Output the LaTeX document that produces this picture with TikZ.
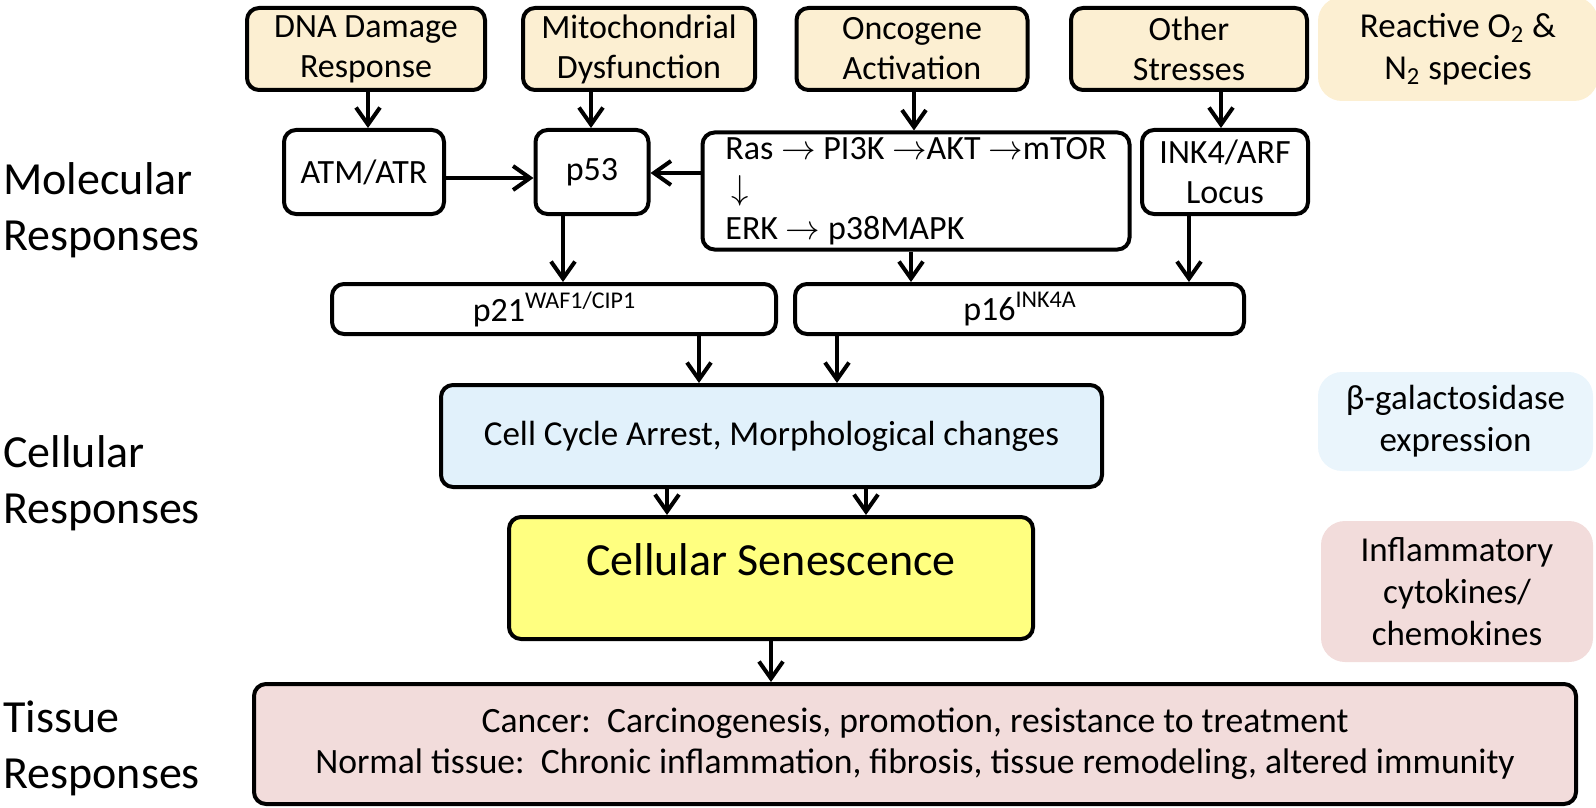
\documentclass[tikz,border=0pt]{standalone}
\usepackage{fontspec}
\setmainfont{Carlito}
\usetikzlibrary{arrows.meta}

\definecolor{stressfill}{HTML}{FCEFD2}
\definecolor{cellfill}{HTML}{E1F1FB}
\definecolor{galfill}{HTML}{EAF5FC}
\definecolor{senfill}{HTML}{FFFF80}
\definecolor{tissfill}{HTML}{F2DCDB}

\newcommand{\sups}[1]{\raisebox{0.8ex}{\fontsize{12}{12}\selectfont #1}}

\begin{document}
\begin{tikzpicture}[x=0.5pt, y=-0.5pt,
  box/.style={draw, line width=2pt, rounded corners=6pt, align=center, inner sep=0pt,
    font=\fontsize{17}{20}\selectfont},
  stress/.style={box, fill=stressfill, minimum height=41pt},
  side/.style={rounded corners=12pt, align=center, inner sep=0pt,
    font=\fontsize{17.5}{21}\selectfont},
  level/.style={anchor=west, align=left, inner sep=0pt, font=\fontsize{23}{28}\selectfont},
  arr/.style={line width=2pt, -{Straight Barb[length=8.5pt,width=12pt]}}]
\useasboundingbox (0,0) rectangle (1596,808);

% levels
\node[level] (mol) at (3,210) {Molecular\\Responses};
\node[level] (cel) at (3,483) {Cellular\\Responses};
\node[level] (tis) at (3,748) {Tissue\\Responses};

% stresses
\node[stress, minimum width=119pt] (dna) at (366,49) {DNA Damage\\Response};
\node[stress, minimum width=116pt] (mito) at (639,49) {Mitochondrial\\Dysfunction};
\node[stress, minimum width=115.5pt] (onco) at (912,49) {Oncogene\\Activation};
\node[stress, minimum width=118pt] (other) at (1189,49) {Other\\Stresses};
\node[side, fill=stressfill, minimum width=140pt, minimum height=52pt] (ros) at (1458,49)
  {Reactive O\textsubscript{2} \&\\N\textsubscript{2} species};

% molecular
\node[box, minimum width=80pt, minimum height=42pt] (atm) at (364,172) {ATM/ATR};
\node[box, minimum width=56.5pt, minimum height=42pt] (p53) at (592,172) {p53};
\node[box, minimum width=213.5pt, minimum height=58.5pt, align=left] (ras) at (916,191)
  {Ras $\rightarrow$ PI3K $\rightarrow$AKT $\rightarrow$mTOR\\
   \hspace{3pt}$\downarrow$\\
   ERK $\rightarrow$ p38MAPK};
\node[box, minimum width=83pt, minimum height=42pt] (ink) at (1225,172) {INK4/ARF\\Locus};
\node[box, minimum width=222pt, minimum height=25pt] (p21) at (554,309) {p21\sups{WAF1/CIP1}};
\node[box, minimum width=224.5pt, minimum height=25pt] (p16) at (1019.5,309) {p16\sups{INK4A}};

% cellular
\node[box, fill=cellfill, minimum width=330.5pt, minimum height=51pt,
  font=\fontsize{17.5}{21}\selectfont] (cell) at (771.5,436) {Cell Cycle Arrest, Morphological changes};
\node[box, fill=senfill, minimum width=262pt, minimum height=61pt, text depth=18pt,
  font=\fontsize{23}{28}\selectfont] (sen) at (771,578) {Cellular Senescence};
\node[side, fill=galfill, minimum width=137.5pt, minimum height=49.5pt] (gal) at (1455.5,421.5)
  {β-galactosidase\\expression};
\node[side, fill=tissfill, minimum width=136pt, minimum height=70.5pt] (infl) at (1457,591.5)
  {Inflammatory\\cytokines/\\chemokines};

% tissue
\node[box, fill=tissfill, minimum width=661pt, minimum height=60pt,
  font=\fontsize{17.8}{20.5}\selectfont] (tissue) at (915,744)
  {Cancer:\ \ Carcinogenesis, promotion, resistance to treatment\\
   Normal tissue:\ \ Chronic inflammation, fibrosis, tissue remodeling, altered immunity};

\draw[arr] (368,0 |- dna.south) -- (368,0 |- atm.north);
\draw[arr] (591,0 |- mito.south) -- (591,0 |- p53.north);
\draw[arr] (914,0 |- onco.south) -- (914,0 |- ras.north);
\draw[arr] (1221,0 |- other.south) -- (1221,0 |- ink.north);
\draw[arr] (atm.east |- 0,178) -- (p53.west |- 0,178);
\draw[arr] (ras.west |- 0,173) -- (p53.east |- 0,173);
\draw[arr] (563,0 |- p53.south) -- (563,0 |- p21.north);
\draw[arr] (911,0 |- ras.south) -- (911,0 |- p16.north);
\draw[arr] (1189,0 |- ink.south) -- (1189,0 |- p16.north);
\draw[arr] (699,0 |- p21.south) -- (699,0 |- cell.north);
\draw[arr] (837,0 |- p16.south) -- (837,0 |- cell.north);
\draw[arr] (667,0 |- cell.south) -- (667,0 |- sen.north);
\draw[arr] (866,0 |- cell.south) -- (866,0 |- sen.north);
\draw[arr] (771,0 |- sen.south) -- (771,0 |- tissue.north);
\end{tikzpicture}
\end{document}
